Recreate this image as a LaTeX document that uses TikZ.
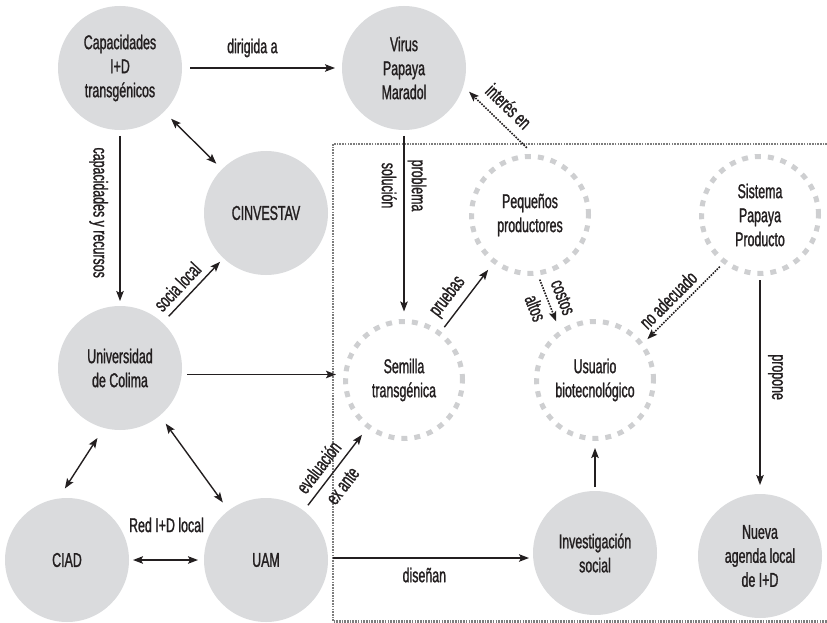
\documentclass[tikz,border=0pt]{standalone}
\usepackage{fontspec}
\setmainfont{Liberation Sans}[FakeStretch=0.62, FakeBold=1.2]
\usepackage{xcolor}
\usepackage{tikz}
\usetikzlibrary{arrows.meta, positioning}
\definecolor{ndgray}{RGB}{218, 219, 221}
\definecolor{dshgray}{RGB}{206, 207, 209}
\definecolor{boxgray}{RGB}{125, 125, 125}
\definecolor{inkblack}{RGB}{35, 31, 32}

\tikzset{
  solidnode/.style={circle, fill=ndgray, minimum size=124pt, inner sep=0pt, outer sep=0pt, align=center, text=inkblack, font=\fontsize{20}{24}\selectfont},
  dashnode/.style={circle, draw=dshgray, line width=5pt, dash pattern=on 6pt off 7pt, minimum size=117pt, inner sep=0pt, outer sep=0pt, align=center, text=inkblack, font=\fontsize{20}{24}\selectfont},
  arr/.style={-{Stealth[length=10pt, width=7.5pt, inset=2pt]}, line width=1.4pt, inkblack},
  biarr/.style={{Stealth[length=10pt, width=7.5pt, inset=2pt]}-{Stealth[length=10pt, width=7.5pt, inset=2pt]}, line width=1.4pt, inkblack},
  dotarr/.style={arr, line width=1.6pt, dash pattern=on 1.6pt off 1.2pt},
  lbl/.style={font=\fontsize{20}{24}\selectfont, text=inkblack, inner sep=3pt},
  pairlbl/.style={lbl, align=center, font=\fontsize{20}{30}\selectfont}
}

\begin{document}
\begin{tikzpicture}[x=1pt, y=-1pt]
\useasboundingbox (0,0) rectangle (827,623);

% local frame
\draw[boxgray, line width=2.6pt, dash pattern=on 1.6pt off 1.1pt] (827,144) -- (333,144) -- (333,621.5) -- (827,621.5);

% actors
\node[solidnode] (cap) at (120,68) {Capacidades\\I+D\\transgénicos};
\node[solidnode] (virus) at (404,68) {Virus\\Papaya\\Maradol};
\node[solidnode] (cinv) at (266,213) {CINVESTAV};
\node[solidnode] (udec) at (120,368) {Universidad\\de Colima};
\node[solidnode] (ciad) at (67,560) {CIAD};
\node[solidnode] (uam) at (266,560) {UAM};
\node[solidnode] (inv) at (595,553) {Investigación\\social};
\node[solidnode] (nueva) at (760,556) {Nueva\\agenda local\\de I+D};

% inside the frame
\node[dashnode] (semilla) at (404,380) {Semilla\\transgénica};
\node[dashnode] (peq) at (530,215) {Pequeños\\productores};
\node[dashnode] (sist) at (760,215) {Sistema\\Papaya\\Producto};
\node[dashnode] (usu) at (595,380) {Usuario\\biotecnológico};

% links
\draw[arr, shorten <=8pt, shorten >=7pt] (cap) -- node[lbl, above=7pt, pos=0.44] (l-dir) {dirigida a} (virus);
\draw[arr, shorten <=6pt, shorten >=5pt] (cap) -- node[lbl, pos=0.47, rotate=-90, anchor=north, inner sep=1pt, outer sep=11pt] (l-cyr) {capacidades y recursos} (udec);
\draw[biarr, shorten <=10pt, shorten >=8pt] (cap) -- (cinv);
\draw[arr, shorten <=9pt, shorten >=5pt] (udec) -- node[lbl, sloped, above=3pt, pos=0.41] (l-soc) {socia local} (cinv);
\draw[arr, shorten <=5pt, shorten >=9.5pt] ([yshift=-6.5pt]udec.east) -- ([yshift=-6.5pt]udec.east -| semilla.west);
\draw[biarr, shorten <=12pt, shorten >=12pt] (udec.-105) -- (ciad.98);
\draw[biarr, shorten <=10pt, shorten >=10pt] (udec.-50) -- (uam.127);
\draw[biarr, shorten <=4pt, shorten >=6pt] (ciad) -- node[lbl, above=24pt] (l-red) {Red I+D local} (uam);
\draw[arr, shorten <=7pt, shorten >=10.5pt] (uam) -- node[pairlbl, sloped, pos=0.41] (l-eva) {evaluación\\ex ante} (semilla);
\draw[arr, shorten <=6pt, shorten >=10pt] (virus) -- node[pairlbl, rotate=-90, pos=0.29] (l-pro) {problema\\solución} (semilla);
\draw[arr, shorten <=8pt, shorten >=10.5pt] (semilla) -- node[lbl, sloped, above=3pt, pos=0.38] (l-pru) {pruebas} (peq);
\draw[dotarr, shorten <=7pt, shorten >=12pt] (peq.-83) -- node[pairlbl, sloped] (l-cos) {costos\\altos} (usu.126);
\draw[dotarr, shorten <=13pt, shorten >=8pt] (peq.84) -- node[lbl, sloped, above=6pt, pos=0.54] (l-int) {interés en} (virus.-17);
\draw[dotarr, shorten <=7pt, shorten >=8pt] (sist.-127) -- node[lbl, sloped, above=2pt, pos=0.57] (l-noa) {no adecuado} (usu.37);
\draw[arr, shorten <=6.5pt, shorten >=9pt] (sist) -- node[lbl, pos=0.47, rotate=-90, anchor=south, inner sep=1pt, outer sep=7pt] (l-prp) {propone} (nueva);
\draw[arr, shorten <=5pt, shorten >=4pt] ([yshift=2pt]uam.east) -- node[lbl, below=6pt, pos=0.47] (l-dis) {diseñan} ([yshift=2pt]uam.east -| inv.west);
\draw[arr, shorten <=4pt, shorten >=9.5pt] (inv) -- (usu);
\end{tikzpicture}
\end{document}
